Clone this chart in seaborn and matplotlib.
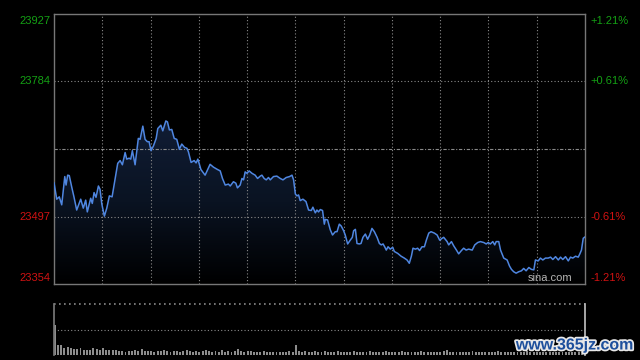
import numpy as np
import pandas as pd
import seaborn as sns
import matplotlib.pyplot as plt
import matplotlib.patheffects as pe
from matplotlib.colors import LinearSegmentedColormap

# ---- data ----
prev_close = 23640.5
y_low, y_high = 23354, 23927

left_labels = ["23927", "23784", "23497", "23354"]
left_values = [23927, 23784, 23497, 23354]
right_labels = ["+1.21%", "+0.61%", "-0.61%", "-1.21%"]

# minutes since 9:30 open (lunch break removed: 0-150 morning, 150-330 afternoon)
minutes = [
    0, 1.7, 3.3, 4.8, 6.7, 7.5, 8.5, 9.5, 11.0, 12.4,
    14.1, 16.6, 18.2, 19.7, 20.7, 22.8, 23.8, 24.9, 26.1, 27.6,
    28.6, 29.7, 31.3, 32.8, 34.4, 36.1, 37.9, 39.6, 41.1, 42.5,
    44.2, 45.2, 46.7, 47.7, 48.7, 50.4, 51.4, 52.4, 53.5, 55.2,
    56.6, 58.0, 59.1, 60.3, 61.8, 63.5, 64.5, 66.4, 67.6, 69.5,
    70.5, 71.7, 73.2, 74.7, 76.3, 77.9, 79.4, 81.1, 82.6, 83.5,
    85.2, 87.1, 88.3, 89.4, 91.3, 93.9, 97.0, 99.1, 101.6, 103.3,
    104.7, 106.4, 108.4, 109.5, 111.5, 113.0, 114.0, 115.7, 116.8, 117.8,
    118.8, 119.9, 121.3, 123.0, 125.0, 126.5, 128.2, 129.2, 130.6, 131.9,
    133.3, 134.4, 136.4, 138.5, 140.6, 142.3, 144.3, 146.4, 147.9, 148.9,
    150.0, 151.0, 152.0, 153.0, 154.7, 156.6, 158.2, 159.9, 160.9, 162.4,
    163.4, 164.4, 165.5, 166.9, 168.0, 168.6, 170.0, 171.7, 173.1, 174.8,
    175.9, 177.3, 178.5, 180.0, 181.0, 182.5, 184.1, 185.4, 186.2, 187.3,
    188.3, 189.7, 190.8, 192.0, 193.5, 194.9, 196.2, 197.6, 199.1, 200.8,
    202.2, 203.4, 204.5, 205.5, 206.5, 207.6, 209.0, 210.5, 211.5, 213.6,
    215.7, 217.7, 219.4, 220.8, 222.1, 223.1, 224.6, 226.0, 227.2, 228.7,
    230.2, 231.4, 232.9, 234.3, 236.4, 238.1, 239.7, 241.2, 242.2, 244.3,
    245.3, 247.0, 248.4, 250.1, 251.5, 253.2, 254.6, 256.1, 257.7, 259.9,
    261.5, 263.3, 265.0, 267.1, 268.6, 269.8, 271.2, 272.7, 273.9, 274.8,
    276.4, 277.5, 279.5, 281.6, 283.1, 284.3, 285.7, 287.2, 288.8, 290.5,
    291.9, 293.4, 295.1, 296.7, 298.2, 299.2, 300.9, 302.3, 303.8, 305.4,
    307.1, 308.6, 310.0, 311.7, 313.4, 314.8, 316.2, 317.9, 319.6, 321.0,
    322.4, 324.1, 325.8, 326.8, 327.8, 328.9, 330.0,
]
prices = [
    23569, 23534, 23539, 23522, 23582, 23564, 23585, 23584, 23560, 23539,
    23511, 23534, 23515, 23532, 23507, 23536, 23525, 23548, 23538, 23562,
    23555, 23524, 23498, 23515, 23541, 23539, 23575, 23610, 23616, 23607,
    23633, 23619, 23621, 23619, 23637, 23607, 23635, 23663, 23661, 23689,
    23661, 23656, 23656, 23637, 23647, 23663, 23684, 23691, 23679, 23700,
    23698, 23681, 23682, 23663, 23661, 23640, 23651, 23644, 23642, 23635,
    23612, 23616, 23611, 23619, 23597, 23585, 23608, 23602, 23597, 23594,
    23578, 23564, 23566, 23562, 23571, 23568, 23558, 23564, 23578, 23575,
    23592, 23589, 23594, 23589, 23585, 23578, 23583, 23585, 23578, 23575,
    23580, 23575, 23582, 23583, 23578, 23575, 23580, 23582, 23585, 23575,
    23545, 23541, 23543, 23531, 23534, 23529, 23511, 23510, 23517, 23505,
    23511, 23507, 23512, 23510, 23481, 23491, 23490, 23469, 23458, 23465,
    23465, 23481, 23477, 23467, 23458, 23439, 23447, 23453, 23467, 23470,
    23440, 23439, 23440, 23453, 23460, 23449, 23458, 23472, 23465, 23453,
    23440, 23437, 23439, 23433, 23426, 23433, 23428, 23432, 23423, 23419,
    23413, 23409, 23405, 23398, 23413, 23430, 23428, 23430, 23425, 23433,
    23433, 23447, 23462, 23465, 23462, 23458, 23447, 23451, 23453, 23444,
    23437, 23444, 23435, 23426, 23418, 23425, 23430, 23426, 23428, 23426,
    23437, 23442, 23444, 23442, 23439, 23442, 23439, 23444, 23437, 23444,
    23444, 23426, 23409, 23405, 23392, 23385, 23380, 23377, 23380, 23382,
    23387, 23382, 23389, 23385, 23384, 23405, 23403, 23409, 23405, 23409,
    23409, 23411, 23406, 23412, 23405, 23411, 23406, 23412, 23403, 23411,
    23409, 23413, 23411, 23418, 23426, 23451, 23454,
]

# volume, one bar every 2 minutes (relative units, panel top = 100)
vol_minutes = list(range(0, 330, 2))
volumes = [
    59, 20, 19, 14, 15, 14, 12, 11, 13, 10, 10, 10, 14, 12, 9, 13, 9, 10, 10, 9,
    7, 8, 6, 8, 7, 10, 7, 12, 8, 7, 8, 6, 7, 8, 10,
    7, 6, 8, 7, 6, 7, 9, 7, 6, 8, 6, 7, 9, 8, 6, 7, 6, 10, 6, 7,
    6, 8, 12, 7, 6, 8, 7, 6, 5, 6, 7, 6, 5, 6, 5, 6, 5, 6, 7, 6,
    20,
    8, 6, 7, 5, 6, 7, 5, 6, 8, 5, 6, 5, 7, 6, 5, 6, 5, 7, 5, 6, 6, 5, 7, 5, 6, 5, 6, 8, 5, 6,
    5, 6, 7, 5, 6, 5, 6, 5, 7, 6, 5, 6, 5, 6, 5, 7, 9, 5, 6, 5, 6, 5, 6, 5, 7, 5, 6, 5, 6, 5,
    6, 5, 8, 5, 6, 5, 6, 5, 6, 5, 6, 7, 5, 6, 5, 6, 5, 6, 5, 6, 5, 6, 5, 6, 5, 6, 5, 6, 7,
]

df = pd.DataFrame({"minute": minutes, "price": prices})
dv = pd.DataFrame({"minute": vol_minutes, "volume": volumes})

# ---- style ----
sns.set_theme(style="dark")
plt.rcParams["font.family"] = ["Liberation Sans", "DejaVu Sans"]

GREEN = "#14a014"
RED = "#d01212"
GRID = "#8a8a8a"
FRAME = "#777777"
LINE = "#4f86e0"

fig = plt.figure(figsize=(6.4, 3.6), dpi=100, facecolor="black")
ax = fig.add_axes([54 / 640, 1 - 284 / 360, 531 / 640, 270 / 360])
axv = fig.add_axes([54 / 640, 5 / 360, 531 / 640, 51 / 360])

for a in (ax, axv):
    a.set_facecolor("black")
    a.grid(False)

# gradient fill under the price line
poly = ax.fill_between(df["minute"], df["price"], y_low, color="none", lw=0)
cmap = LinearSegmentedColormap.from_list("fill", ["#000000", "#0a1322", "#111d35"])
grad = np.linspace(0, 1, 256).reshape(-1, 1)
im = ax.imshow(grad, extent=[0, 330, y_low, df["price"].max()], origin="lower",
               aspect="auto", cmap=cmap, zorder=1)
im.set_clip_path(poly.get_paths()[0], transform=ax.transData)

sns.lineplot(data=df, x="minute", y="price", ax=ax, color=LINE, lw=1.1, zorder=3)

ax.set_xlim(0, 330)
ax.set_ylim(y_low, y_high)

# grid
for m in range(30, 330, 30):
    ax.axvline(m, color=GRID, lw=0.8, ls=(0, (1, 2)), zorder=2)
for v in (23784, 23497):
    ax.axhline(v, color=GRID, lw=0.8, ls=(0, (1, 2)), zorder=2)
ax.axhline(prev_close, color=GRID, lw=0.8, ls=(0, (3, 1.5, 1, 1.5)), zorder=2)

for s in ax.spines.values():
    s.set_visible(True)
    s.set_color(FRAME)
    s.set_linewidth(1.0)

ax.set_xticks([])
ax.set_yticks([])
ax.set_xlabel("")
ax.set_ylabel("")

# axis labels
offsets = [-4.7, 0, 0, 4.3]
colors = [GREEN, GREEN, RED, RED]
trans = ax.get_yaxis_transform()
for lab, val, dy, c in zip(left_labels, left_values, offsets, colors):
    ax.annotate(lab, xy=(0, val), xycoords=trans, xytext=(-2.5, dy),
                textcoords="offset points", ha="right", va="center",
                color=c, fontsize=8)
for lab, val, dy, c in zip(right_labels, left_values, [-5, 0, 0, 4.6], colors):
    ax.annotate(lab, xy=(1, val), xycoords=trans, xytext=(4, dy),
                textcoords="offset points", ha="left", va="center",
                color=c, fontsize=8)

ax.text(0.977, 0.022, "sina.com", transform=ax.transAxes, ha="right",
        va="center", color="#b5b5b5", fontsize=8, zorder=4)

# volume panel
sns.barplot(data=dv, x="minute", y="volume", ax=axv, native_scale=True,
            color="#8c8c8c", width=0.6, errorbar=None, saturation=1,
            edgecolor="none")
axv.set_xlim(-0.5, 330)
axv.set_ylim(0, 100)
axv.axhline(50, color=GRID, lw=0.8, ls=(0, (1, 2)))
axv.axhline(100, color=GRID, lw=1.2, ls=(0, (1, 2)), clip_on=False)
axv.set_xticks([])
axv.set_yticks([])
axv.set_xlabel("")
axv.set_ylabel("")
for k in ("top", "bottom"):
    axv.spines[k].set_visible(False)
axv.spines["left"].set_color(FRAME)
axv.spines["right"].set_color("#bbbbbb")

fig.text(575 / 640, 1 - 345 / 360, "www.365jz.com", ha="center", va="center",
         color="#1d4f9c", fontsize=11.5, fontweight="bold",
         path_effects=[pe.withStroke(linewidth=2.5, foreground="#e8e8e8")])

fig.savefig("out.png", dpi=100, facecolor="black")
